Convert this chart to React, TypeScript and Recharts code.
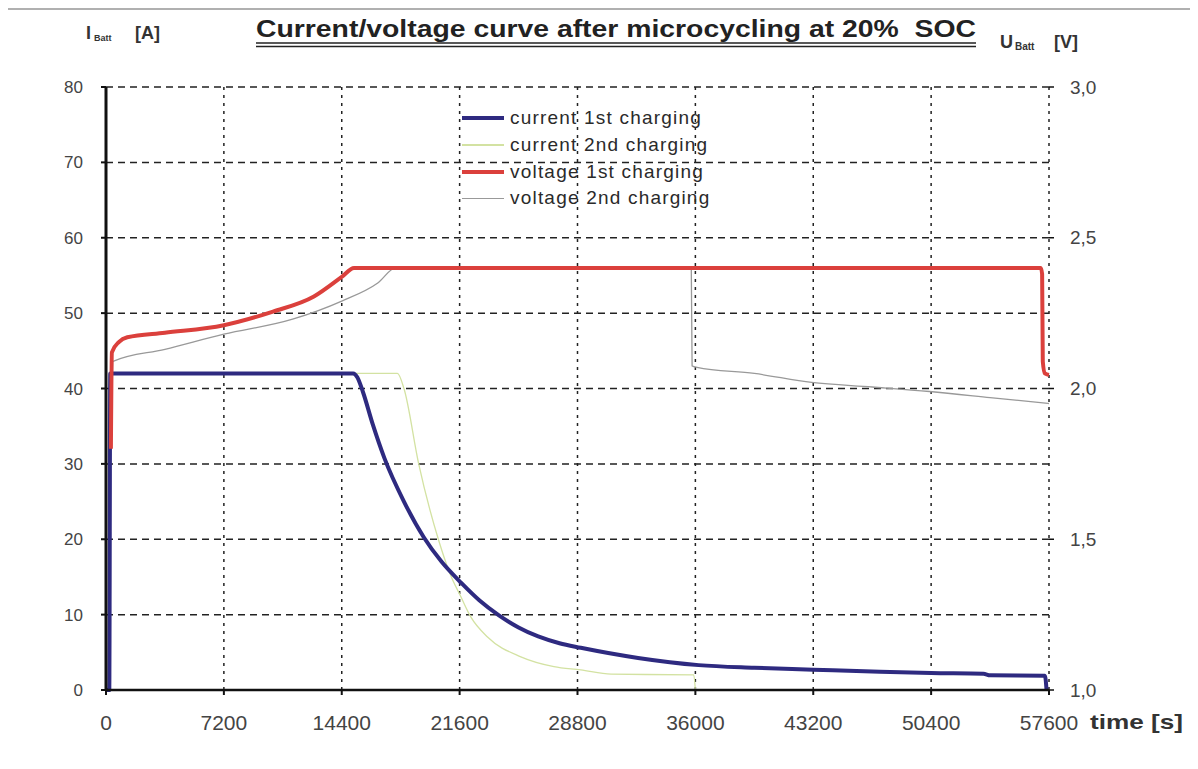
import React from 'react';
import { LineChart, Line, XAxis, YAxis, CartesianGrid, Legend } from 'recharts';

// ---- axis ticks ----
const timeTicks = [0, 7200, 14400, 21600, 28800, 36000, 43200, 50400, 57600];
const currentTicks = [0, 10, 20, 30, 40, 50, 60, 70, 80];
const voltageTicks = [1.0, 1.5, 2.0, 2.5, 3.0];

// ---- current 1st charging (A) ----
const current1Time = [0, 200, 260, 15100, 15350, 15700, 16300, 17000, 18200, 19400, 20500, 21700, 22800, 24000, 25200, 26400, 27700, 29000, 32500, 36200, 39600, 43200, 46800, 50400, 53600, 54000, 57350, 57450];
const current1Value = [0, 0, 42, 42, 41.5, 39.5, 35.2, 30.8, 25.0, 20.3, 17.0, 14.2, 11.9, 9.9, 8.3, 7.1, 6.2, 5.6, 4.25, 3.3, 2.95, 2.7, 2.45, 2.25, 2.15, 1.95, 1.9, 0];

// ---- current 2nd charging (A) ----
const current2Time = [260, 17800, 18200, 19100, 20300, 21000, 21670, 22280, 23320, 25340, 27360, 29000, 30850, 35900, 36000];
const current2Value = [42, 42, 40, 30, 20, 15.5, 12.4, 9.7, 7.0, 4.4, 3.1, 2.66, 2.1, 2.0, 0];

// ---- voltage 1st charging (V) ----
const voltage1Time = [300, 360, 800, 1300, 3600, 7200, 10200, 12700, 14400, 15150, 57100, 57180, 57220, 57350, 57600];
const voltage1Value = [1.80, 2.12, 2.155, 2.17, 2.185, 2.21, 2.255, 2.305, 2.37, 2.40, 2.40, 2.38, 2.09, 2.05, 2.045];

// ---- voltage 2nd charging (V) ----
const voltage2Time = [320, 430, 3600, 7200, 11400, 14400, 16600, 17700, 35750, 35800, 36100, 39600, 43100, 46800, 50300, 54000, 57600];
const voltage2Value = [1.80, 2.09, 2.13, 2.18, 2.23, 2.29, 2.35, 2.40, 2.40, 2.075, 2.07, 2.05, 2.02, 2.005, 1.99, 1.97, 1.95];

const seriesNames = ['current 1st charging', 'current 2nd charging', 'voltage 1st charging', 'voltage 2nd charging'];
const seriesColors = ['#2e2a80', '#d3e2a2', '#db403c', '#999999'];
const seriesWidths = [4, 1.3, 4, 1.3];

const toPoints = (ts: number[], vs: number[]) => ts.map((t, i) => ({ t, v: vs[i] }));

const FONT = '"Liberation Sans", Arial, sans-serif';

function LegendBox() {
  return (
    <div style={{ fontFamily: FONT }}>
      {seriesNames.map((name, i) => (
        <div key={name} style={{ display: 'flex', alignItems: 'center', height: 26.7 }}>
          <div style={{ width: 42, height: seriesWidths[i], background: seriesColors[i], marginRight: 6 }} />
          <span style={{ fontSize: 19, letterSpacing: 1.2, color: '#2a2a2a', whiteSpace: 'nowrap' }}>{name}</span>
        </div>
      ))}
    </div>
  );
}

export default function App() {
  const W = 1182;
  const H = 753;
  const c1 = toPoints(current1Time, current1Value);
  const c2 = toPoints(current2Time, current2Value);
  const v1 = toPoints(voltage1Time, voltage1Value);
  const v2 = toPoints(voltage2Time, voltage2Value);

  return (
    <div style={{ position: 'relative', width: W, height: H, fontFamily: FONT }}>
      <div style={{ position: 'absolute', left: -3, top: 0, width: 1187, height: 750, border: '2px solid #b0b0b0', borderBottom: 'none', boxSizing: 'content-box' }} />
      <LineChart width={W} height={H} margin={{ top: 79, right: 81, bottom: 21, left: 38 }}>
        <CartesianGrid yAxisId="left" vertical={false} stroke="#222" strokeDasharray="7 5" strokeWidth={1.5} />
        <CartesianGrid yAxisId="left" horizontal={false} stroke="#222" strokeDasharray="3 5" strokeWidth={1.5} />
        <XAxis
          dataKey="t"
          type="number"
          domain={[0, 57600]}
          ticks={timeTicks}
          interval={0}
          height={50}
          tick={{ fill: '#444', fontSize: 21, fontFamily: FONT }}
          tickSize={5}
          tickMargin={20}
          axisLine={{ stroke: '#111', strokeWidth: 2.5 }}
          tickLine={{ stroke: '#111', strokeWidth: 2 }}
        />
        <YAxis
          yAxisId="left"
          domain={[0, 80]}
          ticks={currentTicks}
          interval={0}
          width={60}
          tick={{ fill: '#444', fontSize: 17, fontFamily: FONT }}
          tickSize={5}
          tickMargin={18}
          axisLine={{ stroke: '#111', strokeWidth: 3 }}
          tickLine={{ stroke: '#111', strokeWidth: 2 }}
        />
        <YAxis
          yAxisId="right"
          orientation="right"
          domain={[1, 3]}
          ticks={voltageTicks}
          interval={0}
          width={60}
          tick={{ fill: '#444', fontSize: 19, fontFamily: FONT }}
          tickSize={5}
          tickMargin={16}
          axisLine={false}
          tickLine={{ stroke: '#111', strokeWidth: 1.5 }}
          tickFormatter={(v: number) => v.toFixed(1).replace('.', ',')}
        />
        <Line data={v2} dataKey="v" yAxisId="right" type="monotone" stroke={seriesColors[3]} strokeWidth={seriesWidths[3]} dot={false} activeDot={false} isAnimationActive={false} name={seriesNames[3]} />
        <Line data={c2} dataKey="v" yAxisId="left" type="monotone" stroke={seriesColors[1]} strokeWidth={seriesWidths[1]} dot={false} activeDot={false} isAnimationActive={false} name={seriesNames[1]} />
        <Line data={c1} dataKey="v" yAxisId="left" type="monotone" stroke={seriesColors[0]} strokeWidth={seriesWidths[0]} dot={false} activeDot={false} isAnimationActive={false} name={seriesNames[0]} />
        <Line data={v1} dataKey="v" yAxisId="right" type="monotone" stroke={seriesColors[2]} strokeWidth={seriesWidths[2]} dot={false} activeDot={false} isAnimationActive={false} name={seriesNames[2]} />
        <Legend
          layout="vertical"
          align="center"
          verticalAlign="middle"
          content={() => <LegendBox />}
          wrapperStyle={{ left: 454, top: 97, width: 320 }}
        />
      </LineChart>
      <svg width={W} height={H} style={{ position: 'absolute', left: 0, top: 0, pointerEvents: 'none', overflow: 'visible' }}>
        <text x={248} y={29} fontSize={23} fontWeight="bold" fill="#222" textLength={720} lengthAdjust="spacingAndGlyphs" style={{ whiteSpace: 'pre', fontFamily: FONT }}>
          Current/voltage curve after microcycling at 20%  SOC
        </text>
        <line x1={248} x2={968} y1={35} y2={35} stroke="#222" strokeWidth={1.6} />
        <line x1={248} x2={968} y1={38.5} y2={38.5} stroke="#222" strokeWidth={1.6} />
        <text x={78} y={31} fontSize={18} fontWeight="bold" fill="#333" style={{ fontFamily: FONT }}>I</text>
        <text x={86} y={33} fontSize={9} fill="#333" fontWeight="bold" style={{ fontFamily: FONT }}>Batt</text>
        <text x={127} y={31} fontSize={18} fontWeight="bold" fill="#333" style={{ fontFamily: FONT }}>[A]</text>
        <text x={992} y={40} fontSize={18} fontWeight="bold" fill="#333" style={{ fontFamily: FONT }}>U</text>
        <text x={1007} y={42} fontSize={10} fill="#333" fontWeight="bold" style={{ fontFamily: FONT }}>Batt</text>
        <text x={1046} y={40} fontSize={18} fontWeight="bold" fill="#333" style={{ fontFamily: FONT }}>[V]</text>
        <text x={1082} y={721} fontSize={21} fill="#333" fontWeight="bold" textLength={93} lengthAdjust="spacingAndGlyphs" style={{ fontFamily: FONT }}>time [s]</text>
      </svg>
    </div>
  );
}
